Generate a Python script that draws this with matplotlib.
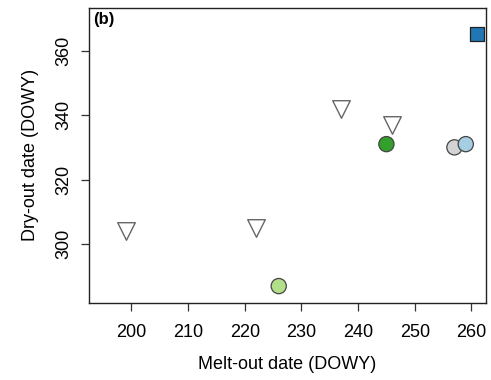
import matplotlib
matplotlib.use("Agg")
import matplotlib.pyplot as plt

plt.rcParams['font.family'] = ['Liberation Sans', 'DejaVu Sans']

# triangles (open, pointing down)
tri_x = [199, 222, 237, 246]
tri_y = [304, 305, 342, 337]

# filled circles
circ_x = [245, 257, 259, 226]
circ_y = [331, 330, 331, 287]
circ_col = ["#33a02c", "#d3d3d3", "#a6cee3", "#b2df8a"]

# square
sq_x = [261]
sq_y = [365]
sq_col = ["#1f78b4"]

fig = plt.figure(figsize=(4.91, 3.80), dpi=100)
ax = fig.add_axes([0.181, 0.203, 0.808, 0.776])

ax.scatter(tri_x, tri_y, marker="v", s=160, facecolor="white",
           edgecolor="#666666", linewidth=1.0, zorder=3)
ax.scatter(circ_x, circ_y, marker="o", s=120, c=circ_col,
           edgecolor="#444444", linewidth=0.9, zorder=3)
ax.scatter(sq_x, sq_y, marker="s", s=110, c=sq_col,
           edgecolor="#222222", linewidth=0.9, zorder=3)

ax.set_xlim(192.5, 262.5)
ax.set_ylim(281.8, 373.2)
ax.set_xticks([200, 210, 220, 230, 240, 250, 260])
ax.set_yticks([300, 320, 340, 360])
ax.tick_params(axis="x", labelsize=13, length=6, width=0.9, pad=9,
               color="#333333")
ax.tick_params(axis="y", labelsize=13, length=6, width=0.9, pad=6,
               color="#333333")
for lab in ax.get_yticklabels():
    lab.set_rotation(90)
    lab.set_va("center")

for s in ax.spines.values():
    s.set_linewidth(1.0)
    s.set_color("#222222")

ax.set_xlabel("Melt-out date (DOWY)", fontsize=13, labelpad=11)
ax.set_ylabel("Dry-out date (DOWY)", fontsize=13, labelpad=12)
ax.text(0.01, 0.985, "(b)", transform=ax.transAxes, fontsize=12,
        fontweight="bold", va="top", ha="left")

fig.savefig("out.png", dpi=100)
